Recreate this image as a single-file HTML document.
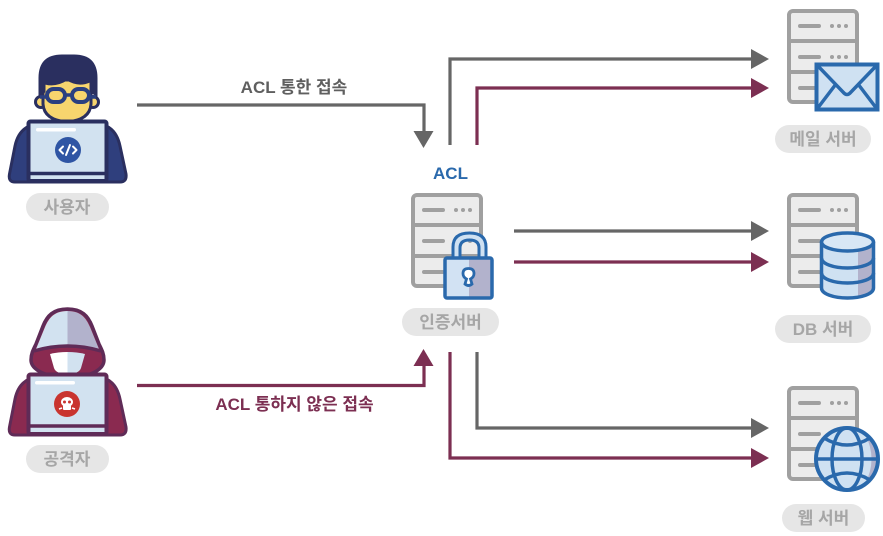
<!DOCTYPE html>
<html><head><meta charset="utf-8">
<style>html,body{margin:0;padding:0;background:#fff}svg{display:block}
text{font-family:"Liberation Sans","Noto Sans CJK KR",sans-serif}
.p{fill:#e6e6e6}.l{font-size:17px;font-weight:700;fill:#a6a6a6;text-anchor:middle}
.m{font-size:17px;font-weight:700;text-anchor:middle}
</style></head><body>
<svg width="883" height="536" viewBox="0 0 883 536" xmlns="http://www.w3.org/2000/svg">
<defs>
<g id="srv">
<rect x="2" y="2" width="68" height="91" rx="4" fill="#ececec" stroke="#a0a0a0" stroke-width="4"/>
<path d="M2 32H70M2 63H70" stroke="#a0a0a0" stroke-width="4"/>
<path d="M13 17H32M13 48H32M13 79H32" stroke="#a0a0a0" stroke-width="4" stroke-linecap="round"/>
<g fill="#a0a0a0"><circle cx="45" cy="17" r="2"/><circle cx="52" cy="17" r="2"/><circle cx="59" cy="17" r="2"/><circle cx="45" cy="48" r="2"/><circle cx="52" cy="48" r="2"/><circle cx="59" cy="48" r="2"/></g>
</g>
</defs>

<!-- user -->
<path d="M15 182Q8 182 9.500 174L15 146Q19 127 36 124L100 124Q116 127 120 146L126 174Q127 182 120 182Z" fill="#2f3f7d" stroke="#2a2f5f" stroke-width="3"/>
<circle cx="41" cy="102" r="5.500" fill="#f7d56e" stroke="#2a2f5f" stroke-width="3"/>
<circle cx="93" cy="102" r="5.500" fill="#f7d56e" stroke="#2a2f5f" stroke-width="3"/>
<path d="M43 80H91V104Q90 120 67 122Q44 120 43 104Z" fill="#f7d56e" stroke="#2a2f5f" stroke-width="3"/>
<path d="M39 96V78Q39 55 62 55H74Q97 55 97 78V96L90 92V82Q78 87 67 80Q56 87 45 84V92Z" fill="#2a2f5f" stroke="#2a2f5f" stroke-width="1"/>
<rect x="47" y="89" width="18" height="13" rx="6.500" fill="#f7d56e" stroke="#2a3f80" stroke-width="4"/>
<rect x="72" y="89" width="17" height="13" rx="6.500" fill="#f7d56e" stroke="#2a3f80" stroke-width="4"/>
<path d="M65 95H72M47 97H40M89 97H96" stroke="#2a3f80" stroke-width="3.500"/>
<rect x="28.500" y="121.500" width="78" height="59.500" rx="2" fill="#d2e2f0" stroke="#2a2f5f" stroke-width="4"/>
<path d="M29 173.500H106" stroke="#2a2f5f" stroke-width="3.500"/>
<rect x="36" y="128" width="40" height="3.500" rx="1.700" fill="#fff"/>
<circle cx="68" cy="150" r="13" fill="#2f55a4"/>
<path d="M63 146.500L59.500 150L63 153.500M73 146.500L76.500 150L73 153.500M70 145L66 155" fill="none" stroke="#fff" stroke-width="2" stroke-linecap="round" stroke-linejoin="round"/>
<rect x="26" y="193" width="83" height="28" rx="14" class="p"/>
<text x="67" y="213" class="l">사용자</text>

<!-- attacker -->
<path d="M15 435Q8 435 9.500 427L15 399Q19 380 36 377L100 377Q116 380 120 399L126 427Q127 435 120 435Z" fill="#8a2a50" stroke="#5f2b57" stroke-width="3"/>
<path d="M67.500 309C53 309 47 316 43 326L36 344C33 350 31 354 31 360C31 370 48 378 68 378C88 378 104 370 104 360C104 354 102 350 99 344L92 326C88 316 82 309 67.500 309Z" fill="#8a2a50" stroke="#5f2b57" stroke-width="3.500"/>
<path d="M67.500 311C54 311 49 318 45 327L36 349C46 346 56 345 67.500 345Z" fill="#d2e2f0"/>
<path d="M67.500 311C81 311 86 318 90 327L99 349C89 346 79 345 67.500 345Z" fill="#b2b2cc"/>
<path d="M34 351Q67.500 341 101 351" fill="none" stroke="#5f2b57" stroke-width="3.500"/>
<path d="M50 354Q58 352 67.500 352V374Q56 374 54 368Z" fill="#fff"/>
<path d="M85 354Q77 352 67.500 352V374Q79 374 81 368Z" fill="#d2e2f0"/>
<rect x="28.500" y="374.500" width="78" height="59.500" rx="2" fill="#d2e2f0" stroke="#5f2b57" stroke-width="4"/>
<path d="M29 426H106" stroke="#5f2b57" stroke-width="3.500"/>
<rect x="35" y="381" width="40" height="3.500" rx="1.700" fill="#fff"/>
<circle cx="67" cy="404" r="13" fill="#c9342f"/>
<ellipse cx="67" cy="402" rx="6" ry="5" fill="#fff"/>
<rect x="63" y="405" width="8" height="5" rx="1" fill="#fff"/>
<circle cx="64.500" cy="402" r="1.500" fill="#c9342f"/><circle cx="69.500" cy="402" r="1.500" fill="#c9342f"/>
<path d="M59 409L62 408M75 409L72 408" stroke="#fff" stroke-width="1.500"/>
<rect x="26" y="445" width="83" height="28" rx="14" class="p"/>
<text x="67" y="465" class="l">공격자</text>

<!-- main connectors -->
<g fill="none" stroke-width="3.200">
<path d="M137 105H424V133" stroke="#666"/>
<path d="M137 385.500H424V364" stroke="#7c2f52"/>
<path d="M450 145V59H754" stroke="#666"/>
<path d="M477 145V88H754" stroke="#7c2f52"/>
<path d="M514 231H754" stroke="#666"/>
<path d="M514 262H754" stroke="#7c2f52"/>
<path d="M477 352V428H754" stroke="#666"/>
<path d="M450 352V458H754" stroke="#7c2f52"/>
</g>
<g fill="#666"><path d="M413.500 131H433.500L423.500 148Z"/><path d="M751 49L769 59L751 69Z"/><path d="M751 221L769 231L751 241Z"/><path d="M751 418L769 428L751 438Z"/></g>
<g fill="#7c2f52"><path d="M413.500 366H433.500L423.500 349Z"/><path d="M751 78L769 88L751 98Z"/><path d="M751 252L769 262L751 272Z"/><path d="M751 448L769 458L751 468Z"/></g>
<text x="294" y="93" class="m" fill="#5f5f5f">ACL 통한 접속</text>
<text x="294.500" y="410" class="m" fill="#7c2f52">ACL 통하지 않은 접속</text>
<text x="450.500" y="179" class="m" fill="#2a69ac">ACL</text>

<!-- auth server -->
<use href="#srv" x="411" y="193"/>
<path d="M453 258V247Q453 233 469.500 233Q486 233 486 247V258H479V248Q479 240 469.500 240Q460 240 460 248V258Z" fill="#cfe1f2" stroke="#2a69ac" stroke-width="3"/>
<rect x="445" y="258" width="47" height="40" rx="2" fill="#d2e2f3"/>
<path d="M469 258H490Q492 258 492 260V296Q492 298 490 298H469Z" fill="#b2b2cc"/>
<rect x="445" y="258" width="47" height="40" rx="2" fill="none" stroke="#2a69ac" stroke-width="3.500"/>
<path d="M465 284L466.500 279Q463 277 463 273.500Q463 268.500 468.500 268.500Q474 268.500 474 273.500Q474 277 470.500 279L472 284Q468.500 287 465 284Z" fill="#fff" stroke="#2a69ac" stroke-width="2.800"/>
<rect x="402" y="308" width="97" height="28" rx="14" class="p"/>
<text x="450.500" y="328" class="l">인증서버</text>

<!-- mail server -->
<use href="#srv" x="787" y="9"/>
<rect x="816.500" y="64.500" width="61" height="45" fill="#cfe1f2" stroke="#2a69ac" stroke-width="4"/>
<path d="M817 65L843 92Q847 97 851 92L877 65M817 109L836 84M877 109L858 84" fill="none" stroke="#2a69ac" stroke-width="3.500"/>
<rect x="775" y="125" width="96" height="28" rx="14" class="p"/>
<text x="823" y="145" class="l">메일 서버</text>

<!-- db server -->
<use href="#srv" x="787" y="193"/>
<path d="M821.500 242V288C821.500 294 834 298 847.500 298C861 298 873.500 294 873.500 288V242Z" fill="#cfe1f2"/>
<path d="M858 248H873.500V288Q873 294 858 297Z" fill="#b2b2cc"/>
<path d="M821.500 242V288C821.500 294 834 298 847.500 298C861 298 873.500 294 873.500 288V242" fill="none" stroke="#2a69ac" stroke-width="3.500"/>
<ellipse cx="847.500" cy="242" rx="26" ry="9" fill="#d8e7f5" stroke="#2a69ac" stroke-width="3.500"/>
<path d="M821.500 258C821.500 264 834 268 847.500 268C861 268 873.500 264 873.500 258M821.500 273C821.500 279 834 283 847.500 283C861 283 873.500 279 873.500 273" fill="none" stroke="#2a69ac" stroke-width="3.500"/>
<rect x="775" y="315" width="96" height="28" rx="14" class="p"/>
<text x="823" y="335" class="l">DB 서버</text>

<!-- web server -->
<use href="#srv" x="787" y="386"/>
<circle cx="847" cy="459" r="31" fill="#cfe1f2"/>
<path d="M865 434Q878 459 865 484Q878 478 878 459Q878 440 865 434Z" fill="#b2b2cc"/>
<circle cx="847" cy="459" r="31" fill="none" stroke="#2a69ac" stroke-width="4"/>
<ellipse cx="847" cy="459" rx="15" ry="31" fill="none" stroke="#2a69ac" stroke-width="3.500"/>
<path d="M816 459H878M824 438Q847 452 870 438M824 480Q847 466 870 480" fill="none" stroke="#2a69ac" stroke-width="3.500"/>
<rect x="782" y="504" width="83" height="28" rx="14" class="p"/>
<text x="823.500" y="524" class="l">웹 서버</text>
</svg>
</body></html>
